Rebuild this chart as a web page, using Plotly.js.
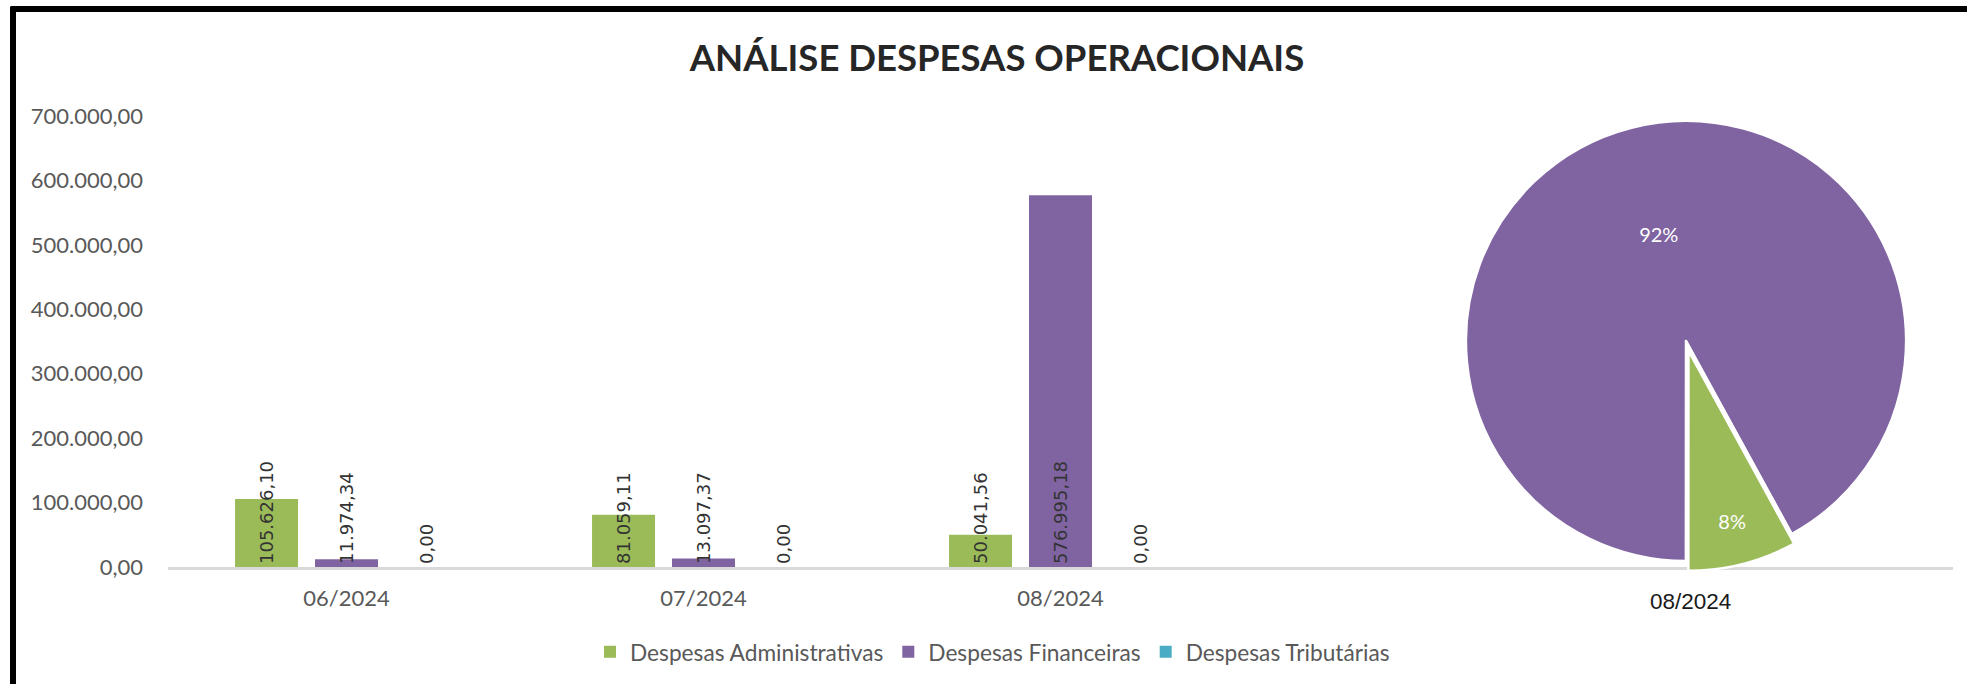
<!DOCTYPE html>
<html>
<head>
<meta charset="utf-8">
<script src="https://cdn.plot.ly/plotly-3.0.1.min.js"></script>
<style>
html,body{margin:0;padding:0;background:#fff;}
#wrap{position:relative;width:1967px;height:684px;overflow:hidden;background:#fff;}
#chart{width:1967px;height:684px;}
#frame{position:absolute;left:10px;top:6px;right:0;bottom:0;border-left:6px solid #000;border-top:6px solid #000;border-top-left-radius:2px;pointer-events:none;}
</style>
</head>
<body>
<div id="wrap"><div id="chart"></div><div id="frame"></div></div>
<script>
// ---- data ----
const months = ['06/2024', '07/2024', '08/2024'];
const seriesNames = ['Despesas Administrativas', 'Despesas Financeiras', 'Despesas Tributárias'];
const administrativas = [105626.10, 81059.11, 50041.56];
const financeiras = [11974.34, 13097.37, 576995.18];
const tributarias = [0.00, 0.00, 0.00];
const pieMonth = '08/2024';
const yTickVals = [0, 100000, 200000, 300000, 400000, 500000, 600000, 700000];
const chartTitle = 'ANÁLISE DESPESAS OPERACIONAIS';

// ---- styles ----
const colors = ['#9BBB59', '#8064A2', '#4BACC6'];
const W = 1967, H = 684;
const tickFont = {family: 'Lato, sans-serif', size: 22, color: '#595959'};
const labelFont = {family: 'DejaVu Sans, sans-serif', size: 18, color: '#333333'};

const seriesValues = [administrativas, financeiras, tributarias];
const traces = seriesValues.map((vals, i) => ({
  type: 'bar',
  name: seriesNames[i],
  x: months,
  y: vals,
  marker: {color: colors[i], line: {width: 0}},
  texttemplate: '%{y:,.2f}',
  textposition: vals.map(v => v > 0 ? 'inside' : 'outside'),
  insidetextanchor: 'start',
  textangle: -90,
  constraintext: 'none',
  cliponaxis: false,
  textfont: labelFont,
  insidetextfont: labelFont,
  outsidetextfont: labelFont,
  hoverinfo: 'skip'
}));

const pieIdx = months.indexOf(pieMonth);
traces.push({
  type: 'pie',
  labels: seriesNames,
  values: seriesValues.map(v => v[pieIdx]),
  marker: {colors: colors, line: {color: '#ffffff', width: 2.5}},
  sort: false,
  direction: 'clockwise',
  rotation: 151.3,
  pull: [0.045, 0, 0],
  texttemplate: '%{percent:.0%}',
  textposition: 'inside',
  insidetextorientation: 'horizontal',
  textfont: {family: 'Lato, sans-serif', size: 20, color: '#ffffff'},
  showlegend: false,
  hoverinfo: 'skip',
  automargin: false,
  domain: {x: [1456 / W, 1916 / W], y: [113 / H, 573 / H]}
});

const layout = {
  width: W, height: H,
  margin: {l: 0, r: 0, t: 0, b: 0, pad: 0},
  paper_bgcolor: 'rgba(0,0,0,0)',
  plot_bgcolor: 'rgba(0,0,0,0)',
  separators: ',.',
  hovermode: false,
  barmode: 'group',
  bargap: 0.328,
  bargroupgap: 0.2125,
  title: {
    text: chartTitle,
    font: {family: 'Lato, sans-serif', size: 36.5, color: '#262626', weight: 'bold'},
    x: 997 / W, xanchor: 'center',
    y: 1 - 58 / H, yanchor: 'middle', yref: 'container'
  },
  xaxis: {
    type: 'category',
    categoryorder: 'array',
    categoryarray: months,
    range: [-0.5, 4.5],
    domain: [168 / W, 1953 / W],
    showline: true, linecolor: '#D9D9D9', linewidth: 2.5,
    showgrid: false, zeroline: false, ticks: '',
    tickfont: tickFont,
    ticklabelstandoff: 10,
    fixedrange: true, automargin: false
  },
  yaxis: {
    range: [0, 700000],
    domain: [(H - 567) / H, (H - 116) / H],
    tickvals: yTickVals,
    tickformat: ',.2f',
    showline: false, showgrid: false, zeroline: false, ticks: '',
    tickfont: tickFont,
    ticklabelstandoff: 24,
    fixedrange: true, automargin: false
  },
  showlegend: true,
  legend: {
    orientation: 'h',
    x: 590 / W, xanchor: 'left',
    y: (H - 652) / H, yanchor: 'middle',
    font: {family: 'Lato, sans-serif', size: 22.7, color: '#595959'},
    itemwidth: 30,
    bgcolor: 'rgba(0,0,0,0)',
    traceorder: 'normal'
  },
  annotations: [{
    text: pieMonth,
    xref: 'paper', yref: 'paper',
    x: 1690 / W, y: (H - 601) / H,
    xanchor: 'center', yanchor: 'middle',
    showarrow: false,
    font: {family: 'Liberation Sans, Arial, sans-serif', size: 22.5, color: '#1a1a1a'}
  }]
};

Plotly.newPlot('chart', traces, layout, {displayModeBar: false, staticPlot: true});
</script>
</body>
</html>
